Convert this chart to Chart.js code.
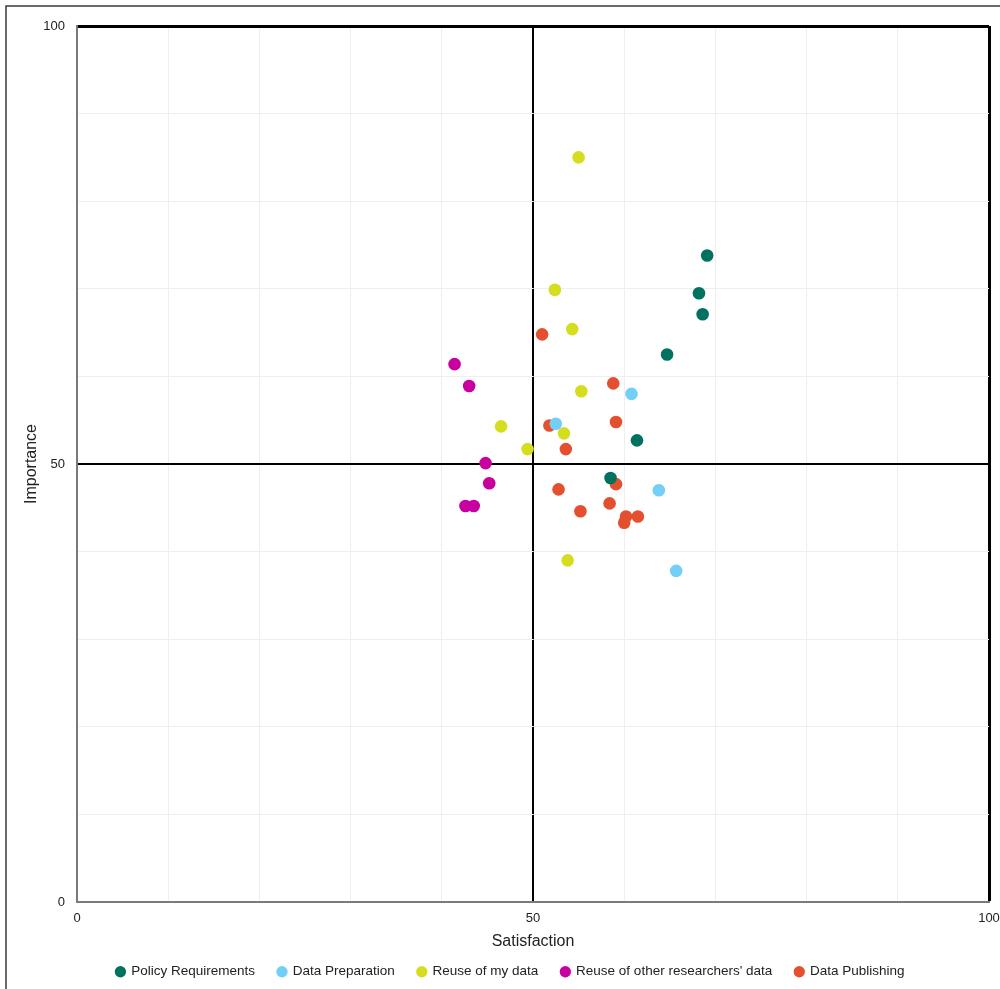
<!DOCTYPE html>
<html>
<head>
<meta charset="utf-8">
<script src="https://cdn.jsdelivr.net/npm/chart.js@4.4.1/dist/chart.umd.min.js"></script>
<style>
  html, body { margin: 0; padding: 0; background: #fff; }
  #c { display: block; }
</style>
</head>
<body>
<canvas id="c" width="1000" height="989"></canvas>
<script>
// ---- Data ----
const seriesNames = ["Policy Requirements", "Data Preparation", "Reuse of my data", "Reuse of other researchers' data", "Data Publishing"];

const policyX = [69.1, 68.2, 68.6, 64.7, 61.4, 58.5];
const policyY = [73.8, 69.5, 67.1, 62.5, 52.7, 48.4];

const prepX = [60.8, 52.5, 63.8, 65.7];
const prepY = [58.0, 54.6, 47.0, 37.8];

const reuseMyX = [55.0, 52.4, 54.3, 55.3, 46.5, 53.4, 49.4, 53.8];
const reuseMyY = [85.0, 69.9, 65.4, 58.3, 54.3, 53.5, 51.7, 39.0];

const reuseOtherX = [41.4, 43.0, 44.8, 45.2, 42.6, 43.5];
const reuseOtherY = [61.4, 58.9, 50.1, 47.8, 45.2, 45.2];

const publishX = [51.0, 58.8, 59.1, 51.8, 53.6, 59.1, 52.8, 58.4, 55.2, 60.2, 61.5, 60.0];
const publishY = [64.8, 59.2, 54.8, 54.4, 51.7, 47.7, 47.1, 45.5, 44.6, 44.0, 44.0, 43.3];

const tickLabels = [0, 50, 100];
const axisTitles = { x: "Satisfaction", y: "Importance" };

const colors = ["#00725f", "#74cff7", "#d5dd1f", "#c8009f", "#e4502f"];

function pts(xs, ys) { return xs.map((x, i) => ({ x: x, y: ys[i] })); }

const allX = [policyX, prepX, reuseMyX, reuseOtherX, publishX];
const allY = [policyY, prepY, reuseMyY, reuseOtherY, publishY];

const datasets = seriesNames.map((name, i) => ({
  label: name,
  data: pts(allX[i], allY[i]),
  backgroundColor: colors[i],
  borderColor: colors[i],
  borderWidth: 0,
  pointRadius: 6.3,
  pointHoverRadius: 6.3,
  pointStyle: 'circle'
}));

const FONT = "'Liberation Sans', Arial, sans-serif";
const PLOT_BOTTOM = 902;
const LEGEND_TEXT_Y = 972;
const LEG_PAD = 23;

const frame = {
  id: 'frame',
  afterLayout(chart) {
    const lg = chart.legend;
    if (lg) {
      const cur = lg.top + LEG_PAD + 7;
      const d = LEGEND_TEXT_Y - cur;
      lg.top += d; lg.bottom += d;
      lg.left += 5; lg.right += 5;
    }
    const sx = chart.scales.x;
    if (sx) { sx.bottom += 9; }
  },
  afterDraw(chart) {
    const c = chart.ctx;
    c.save();
    c.strokeStyle = '#3a3a3a';
    c.lineWidth = 1.5;
    c.beginPath();
    c.moveTo(6, 989);
    c.lineTo(6, 6);
    c.lineTo(1000, 6);
    c.stroke();
    c.restore();
  }
};

function gridColor(ctx) {
  const v = ctx.tick && ctx.tick.value;
  return (v === 50 || v === 100) ? '#000000' : '#efefef';
}
function gridWidth(ctx) {
  const v = ctx.tick && ctx.tick.value;
  if (v === 100) return 3;
  if (v === 50) return 2;
  return 1;
}
function tickCb(v) { return tickLabels.includes(v) ? String(v) : ''; }

new Chart(document.getElementById('c'), {
  type: 'scatter',
  data: { datasets },
  options: {
    responsive: false,
    animation: false,
    devicePixelRatio: 1,
    layout: { padding: { top: 26, right: 11, left: 22, bottom: 0 } },
    plugins: {
      legend: {
        position: 'bottom',
        labels: {
          usePointStyle: true,
          pointStyle: 'circle',
          boxWidth: 8,
          boxHeight: 8,
          padding: LEG_PAD,
          color: '#222',
          font: { family: FONT, size: 13.5 }
        }
      },
      tooltip: { enabled: false }
    },
    scales: {
      x: {
        type: 'linear',
        min: 0, max: 100,
        afterFit(s) {
          const lh = (s.chart.legend && s.chart.legend.height) || 40;
          s.height = 989 - PLOT_BOTTOM - lh;
          s.paddingLeft = 0; s.paddingRight = 0;
        },
        ticks: { stepSize: 10, callback: tickCb, color: '#222', font: { family: FONT, size: 13 }, padding: 9, maxRotation: 0, autoSkip: false },
        grid: { color: gridColor, lineWidth: gridWidth, drawTicks: false },
        border: { color: '#7a7a7a', width: 2 },
        title: { display: true, text: axisTitles.x, color: '#222', font: { family: FONT, size: 16 }, padding: { top: 2, bottom: 0 } }
      },
      y: {
        type: 'linear',
        min: 0, max: 100,
        afterFit(s) { s.width = 55; s.paddingTop = 0; s.paddingBottom = 0; },
        ticks: { stepSize: 10, callback: tickCb, color: '#222', font: { family: FONT, size: 13 }, padding: 12, autoSkip: false },
        grid: { color: gridColor, lineWidth: gridWidth, drawTicks: false },
        border: { color: '#7a7a7a', width: 2 },
        title: { display: true, text: axisTitles.y, color: '#222', font: { family: FONT, size: 16 }, padding: { top: 0, bottom: 0 } }
      }
    }
  },
  plugins: [frame]
});
</script>
</body>
</html>
